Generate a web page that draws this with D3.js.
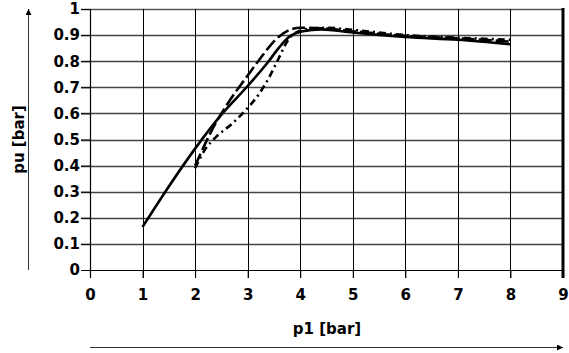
<!DOCTYPE html>
<html><head><meta charset="utf-8">
<script src="https://cdn.jsdelivr.net/npm/d3@7"></script>
<style>html,body{margin:0;padding:0;background:#fff;}svg{display:block;}</style>
</head><body>
<svg id="chart" width="569" height="353"></svg>
<script>
const xTicks = [0,1,2,3,4,5,6,7,8,9];
const yTicks = [0,0.1,0.2,0.3,0.4,0.5,0.6,0.7,0.8,0.9,1];
const yTickLabels = ["0","0.1","0.2","0.3","0.4","0.5","0.6","0.7","0.8","0.9","1"];
const xLabel = "p1 [bar]";
const yLabel = "pu [bar]";

const solidX = [1, 1.5, 2, 2.5, 3, 3.4, 3.6, 3.8, 4.05, 4.4, 5, 6, 7, 8];
const solidY = [0.165, 0.32, 0.465, 0.595, 0.705, 0.80, 0.853, 0.895, 0.915, 0.922, 0.91, 0.893, 0.882, 0.865];
const longDashX = [2, 2.35, 2.66, 3, 3.2, 3.6, 3.8, 4.0, 4.5, 5, 6, 7, 8];
const longDashY = [0.40, 0.547, 0.65, 0.745, 0.80, 0.895, 0.92, 0.928, 0.925, 0.915, 0.897, 0.888, 0.875];
const dotDashX = [2, 2.2, 2.4, 2.7, 2.95, 3.2, 3.4, 3.6, 3.75, 3.9, 4.2, 4.5, 5, 6, 7, 8];
const dotDashY = [0.39, 0.465, 0.51, 0.56, 0.61, 0.67, 0.735, 0.815, 0.875, 0.908, 0.925, 0.928, 0.92, 0.9, 0.89, 0.882];

const series = [
  {xs: solidX, ys: solidY, dash: null},
  {xs: longDashX, ys: longDashY, dash: "13,4"},
  {xs: dotDashX, ys: dotDashY, dash: "7,4,2,4"}
];

const svg = d3.select("#chart");
const x = d3.scaleLinear().domain([0,9]).range([90,563]);
const y = d3.scaleLinear().domain([0,1]).range([270,9]);
const font = "'DejaVu Sans', sans-serif";

// horizontal gridlines + y ticks
svg.append("g").selectAll("line").data(yTicks.slice(1)).join("line")
  .attr("x1", 81).attr("x2", x(9))
  .attr("y1", d => Math.round(y(d)) + 0.5).attr("y2", d => Math.round(y(d)) + 0.5)
  .attr("stroke", d => d === 1 ? "#555" : "#444").attr("stroke-width", 1.3);
// vertical gridlines + x ticks
svg.append("g").selectAll("line").data(xTicks.slice(1, 9)).join("line")
  .attr("x1", d => Math.round(x(d)) + 0.5).attr("x2", d => Math.round(x(d)) + 0.5)
  .attr("y1", y(1)).attr("y2", 278)
  .attr("stroke", "#000").attr("stroke-width", 1);

// axes
const xAxis = d3.axisBottom(x).tickValues(xTicks).tickSize(8).tickFormat(d3.format("d"));
const gx = svg.append("g").attr("transform", `translate(0,${y(0)})`).call(xAxis);
gx.select(".domain").attr("stroke", "#000").attr("stroke-width", 1.2);
gx.selectAll(".tick line").attr("stroke", "#000");
gx.selectAll(".tick text").attr("font-family", font).attr("font-weight", "bold")
  .attr("font-size", 15).attr("fill", "#000").attr("dy", "1.25em");

const yAxis = d3.axisLeft(y).tickValues(yTicks).tickSize(9).tickFormat((d,i) => yTickLabels[i]);
const gy = svg.append("g").attr("transform", `translate(${x(0)},0)`).call(yAxis);
gy.select(".domain").attr("stroke", "#000").attr("stroke-width", 1.2);
gy.selectAll(".tick line").attr("stroke", "#000");
gy.selectAll(".tick text").attr("font-family", font).attr("font-weight", "bold")
  .attr("font-size", 15).attr("fill", "#000").attr("x", -10);

// right border (thick)
svg.append("line").attr("x1", x(9)).attr("x2", x(9)).attr("y1", y(1) - 1).attr("y2", 278)
  .attr("stroke", "#000").attr("stroke-width", 3);

// curves
const line = d3.line().x(d => x(d[0])).y(d => y(d[1])).curve(d3.curveMonotoneX);
series.forEach(s => {
  const pts = s.xs.map((v, i) => [v, s.ys[i]]);
  svg.append("path").attr("d", line(pts)).attr("fill", "none")
    .attr("stroke", "#000").attr("stroke-width", 2.6)
    .attr("stroke-dasharray", s.dash).attr("stroke-linejoin", "round");
});

// axis arrows
const defs = svg.append("defs");
defs.append("marker").attr("id", "arr").attr("viewBox", "0 0 10 10")
  .attr("refX", 10).attr("refY", 5).attr("markerWidth", 18).attr("markerHeight", 6)
  .attr("markerUnits", "userSpaceOnUse").attr("orient", "auto")
  .append("path").attr("d", "M0,0 L10,5 L0,10 Z").attr("fill", "#000");

svg.append("line").attr("x1", 28.5).attr("x2", 28.5).attr("y1", y(0)).attr("y2", y(1))
  .attr("stroke", "#333").attr("stroke-width", 1).attr("marker-end", "url(#arr)");
svg.append("line").attr("x1", x(0)).attr("x2", x(9)).attr("y1", 347.5).attr("y2", 347.5)
  .attr("stroke", "#333").attr("stroke-width", 1).attr("marker-end", "url(#arr)");

// axis labels
svg.append("text").attr("x", 327).attr("y", 334)
  .attr("text-anchor", "middle").attr("font-family", font).attr("font-weight", "bold")
  .attr("font-size", 15).text(xLabel);
svg.append("text").attr("transform", `translate(24,${(y(0) + y(1)) / 2}) rotate(-90)`)
  .attr("text-anchor", "middle").attr("font-family", font).attr("font-weight", "bold")
  .attr("font-size", 15).text(yLabel);
</script>
</body></html>
